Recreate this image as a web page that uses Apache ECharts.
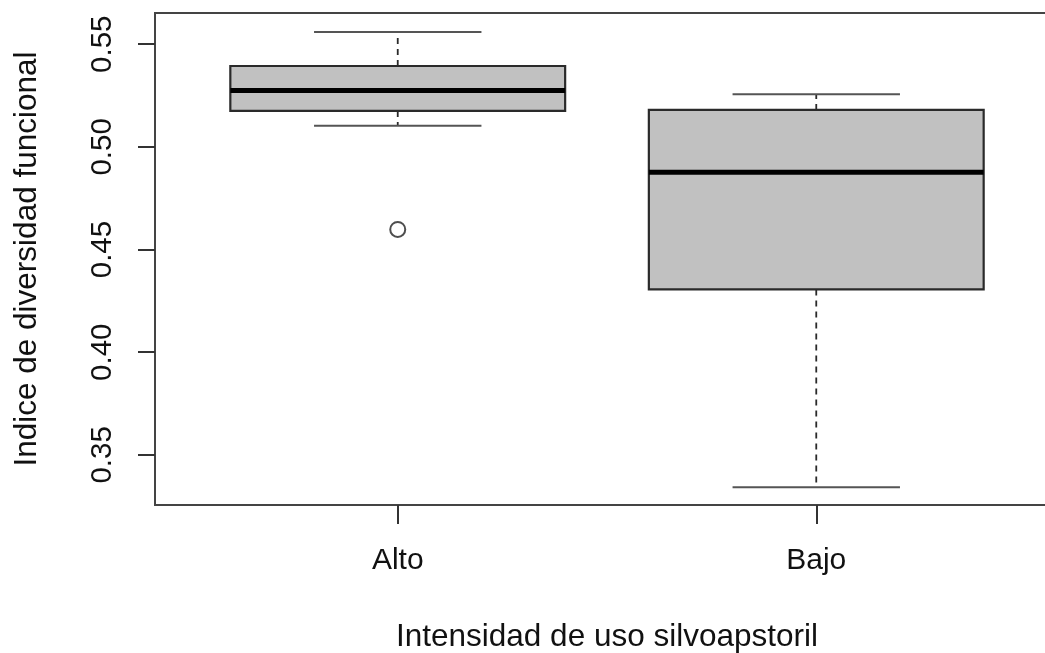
<!DOCTYPE html>
<html>
<head>
<meta charset="utf-8">
<script src="https://cdn.jsdelivr.net/npm/echarts@6/dist/echarts.min.js"></script>
<style>
html,body{margin:0;padding:0;background:#fff;overflow:hidden;width:1045px;height:653px;}
#chart{width:1060px;height:653px;}
</style>
</head>
<body>
<div id="chart"></div>
<script>
// ---- data ----
var categories = ['Alto', 'Bajo'];
var whiskerLow  = [0.5103, 0.3342];
var q1          = [0.5175, 0.4306];
var median      = [0.5274, 0.4876];
var q3          = [0.5394, 0.5180];
var whiskerHigh = [0.5559, 0.5256];
var outlierGroup = [0];          // index into categories
var outlierValue = [0.4598];
var yTicks = [0.35, 0.40, 0.45, 0.50, 0.55];
var xTicks = [1, 2];

var boxData = categories.map(function (c, i) {
  return [i + 1, whiskerLow[i], q1[i], median[i], q3[i], whiskerHigh[i]];
});
var outlierData = outlierGroup.map(function (g, i) { return [g + 1, outlierValue[i]]; });

var FONT = "'Liberation Sans', Arial, Helvetica, sans-serif";
var chart = echarts.init(document.getElementById('chart'), null, {renderer: 'canvas'});

function renderBox(params, api) {
  var x = api.value(0);
  var lo = api.value(1), a = api.value(2), m = api.value(3), b = api.value(4), hi = api.value(5);
  var pL = api.coord([x - 0.4, a]);
  var pR = api.coord([x + 0.4, b]);
  var cx = api.coord([x, m])[0];
  var yLo = api.coord([x, lo])[1], yA = api.coord([x, a])[1], yM = api.coord([x, m])[1];
  var yB = api.coord([x, b])[1], yHi = api.coord([x, hi])[1];
  var capL = api.coord([x - 0.2, lo])[0], capR = api.coord([x + 0.2, lo])[0];
  var stroke = '#2a2a2a';
  return {
    type: 'group',
    children: [
      {type: 'line', shape: {x1: cx, y1: yB, x2: cx, y2: yHi}, style: {stroke: stroke, lineWidth: 1.8, lineDash: [6, 5]}},
      {type: 'line', shape: {x1: cx, y1: yA, x2: cx, y2: yLo}, style: {stroke: stroke, lineWidth: 1.8, lineDash: [6, 5]}},
      {type: 'line', shape: {x1: capL, y1: yHi, x2: capR, y2: yHi}, style: {stroke: '#555', lineWidth: 2}},
      {type: 'line', shape: {x1: capL, y1: yLo, x2: capR, y2: yLo}, style: {stroke: '#555', lineWidth: 2}},
      {type: 'rect', shape: {x: pL[0], y: yB, width: pR[0] - pL[0], height: yA - yB},
       style: {fill: '#c1c1c1', stroke: stroke, lineWidth: 2.2}},
      {type: 'line', shape: {x1: pL[0], y1: yM, x2: pR[0], y2: yM}, style: {stroke: '#000', lineWidth: 5}}
    ]
  };
}

chart.setOption({
  animation: false,
  backgroundColor: '#fff',
  grid: {left: 155, right: 1, top: 13, bottom: 148, outerBoundsMode: 'none', containLabel: false,
    show: true, borderColor: '#444', borderWidth: 2, backgroundColor: 'transparent'},
  xAxis: {
    type: 'value', min: 0.42, max: 2.58,
    name: 'Intensidad de uso silvoapstoril', nameLocation: 'middle', nameGap: 116,
    nameTextStyle: {fontFamily: FONT, fontSize: 31.5, color: '#111'},
    axisLine: {show: false},
    splitLine: {show: false},
    axisTick: {show: true, customValues: xTicks, length: 19, inside: false, lineStyle: {color: '#333', width: 2}},
    axisLabel: {show: true, customValues: xTicks, margin: 41, fontFamily: FONT, fontSize: 30, color: '#111',
      formatter: function (v) { return categories[Math.round(v) - 1] || ''; }}
  },
  yAxis: {
    type: 'value', min: 0.3256, max: 0.5652,
    name: 'Indice de diversidad funcional', nameLocation: 'middle', nameGap: 112, nameRotate: 90,
    nameTextStyle: {fontFamily: FONT, fontSize: 31.5, color: '#111'},
    axisLine: {show: false},
    splitLine: {show: false},
    axisTick: {show: true, customValues: yTicks, length: 17, inside: false, lineStyle: {color: '#333', width: 2}},
    axisLabel: {show: true, customValues: yTicks, rotate: 90, margin: 37, fontFamily: FONT, fontSize: 29.5, color: '#111',
      formatter: function (v) { return v.toFixed(2); }}
  },
  series: [
    {type: 'custom', renderItem: renderBox, data: boxData, encode: {x: 0, y: [1, 2, 3, 4, 5]}, clip: false, z: 2},
    {type: 'scatter', data: outlierData, symbol: 'circle', symbolSize: 15,
     itemStyle: {color: '#fff', borderColor: '#222', borderWidth: 2}, z: 3}
  ]
});
</script>
</body>
</html>
